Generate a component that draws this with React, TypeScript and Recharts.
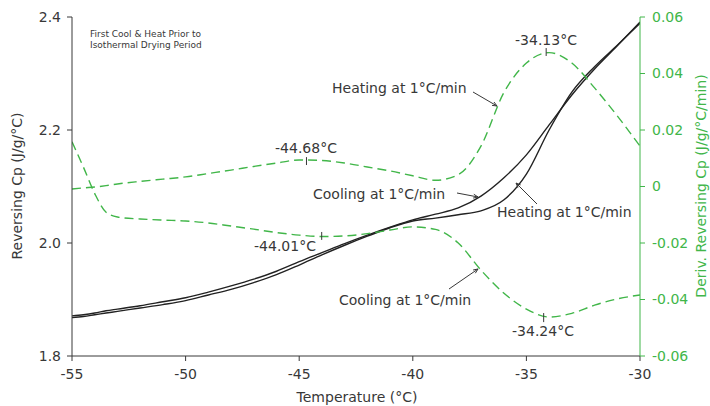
import {
  ComposedChart,
  Line,
  ReferenceLine,
  XAxis,
  YAxis,
} from "recharts";

const temps = [
  -55, -54.5, -54, -53.5, -53, -52, -51, -50, -49, -48, -47, -46, -45, -44, -43,
  -42, -41, -40, -39, -38, -37, -36, -35, -34, -33, -32, -31, -30,
];

const cpCooling = [
  1.871, 1.873, 1.876, 1.88, 1.883, 1.889, 1.896, 1.903, 1.913, 1.924, 1.936,
  1.95, 1.967, 1.983, 1.999, 2.014, 2.028, 2.041, 2.051, 2.062, 2.083, 2.115,
  2.156, 2.209, 2.262, 2.308, 2.349, 2.391,
];

const cpHeating = [
  1.868, 1.87, 1.873, 1.876, 1.879, 1.885, 1.891, 1.898, 1.908, 1.918, 1.93,
  1.944, 1.961, 1.979, 1.996, 2.012, 2.027, 2.039, 2.044, 2.05, 2.057, 2.076,
  2.122, 2.2, 2.267, 2.312, 2.35, 2.389,
];

const derivHeating = [
  -0.0009, -0.0005, -0.0002, 0.0003, 0.0009, 0.0018, 0.0026, 0.0034, 0.0046,
  0.0058, 0.0071, 0.0083, 0.0094, 0.0092, 0.0083, 0.0069, 0.0055, 0.0038,
  0.0022, 0.0042, 0.0143, 0.0331, 0.0437, 0.0474, 0.0437, 0.0349, 0.025,
  0.0143,
];

const derivCooling = [
  0.0158, 0.0069, -0.0025, -0.0091, -0.0108, -0.0115, -0.0119, -0.0122, -0.0129,
  -0.014, -0.0151, -0.0163, -0.0172, -0.0177, -0.0175, -0.0167, -0.0154,
  -0.0143, -0.0152, -0.02, -0.0296, -0.0377, -0.0434, -0.0462, -0.0449, -0.042,
  -0.0398, -0.0384,
];

const xTicks = [-55, -50, -45, -40, -35, -30];
const cpTicks = [1.8, 2.0, 2.2, 2.4];
const derivTicks = [-0.06, -0.04, -0.02, 0, 0.02, 0.04, 0.06];

// peak / trough markers: [temperature, low, high] on the derivative axis
const markers = [
  [-34.13, 0.0462, 0.049],
  [-44.68, 0.0076, 0.0104],
  [-44.01, -0.0189, -0.0161],
  [-34.24, -0.048, -0.0448],
];

const data = temps.map((t, i) => ({
  t,
  cpCooling: cpCooling[i],
  cpHeating: cpHeating[i],
  derivHeating: derivHeating[i],
  derivCooling: derivCooling[i],
}));

const INK = "#383838";
const GREEN = "#41b649";
const FONT = "'DejaVu Sans', sans-serif";

const arrows = [
  [473, 92, 497, 106],
  [457, 193, 478, 197],
  [537, 204, 516, 183],
  [449, 289, 478, 269],
];

function Arrow({ x1, y1, x2, y2 }: { x1: number; y1: number; x2: number; y2: number }) {
  const a = Math.atan2(y2 - y1, x2 - x1);
  const h = 5;
  const p1 = [x2 - h * Math.cos(a - 0.4), y2 - h * Math.sin(a - 0.4)];
  const p2 = [x2 - h * Math.cos(a + 0.4), y2 - h * Math.sin(a + 0.4)];
  return (
    <g stroke={INK} strokeWidth={1} fill="none">
      <line x1={x1} y1={y1} x2={x2} y2={y2} />
      <polyline points={`${p1[0]},${p1[1]} ${x2},${y2} ${p2[0]},${p2[1]}`} />
    </g>
  );
}

export default function App() {
  return (
    <div style={{ position: "absolute", left: 0, top: 0, width: 710, height: 406, background: "#fff" }}>
      <ComposedChart
        width={710}
        height={406}
        data={data}
        margin={{ top: 17, right: 0, bottom: 0, left: 0 }}
      >
        <XAxis
          dataKey="t"
          type="number"
          domain={[-55, -30]}
          ticks={xTicks}
          allowDataOverflow
          height={50}
          stroke={INK}
          tickSize={5}
          tickMargin={8}
          tick={{ fill: INK, fontSize: 14, fontFamily: FONT }}
        />
        <YAxis
          yAxisId="cp"
          domain={[1.8, 2.4]}
          ticks={cpTicks}
          allowDataOverflow
          width={72}
          stroke={INK}
          tickSize={5}
          tickMargin={6}
          tickFormatter={(v: number) => v.toFixed(1)}
          tick={{ fill: INK, fontSize: 14, fontFamily: FONT }}
        />
        <YAxis
          yAxisId="d"
          orientation="right"
          domain={[-0.06, 0.06]}
          ticks={derivTicks}
          allowDataOverflow
          width={70}
          stroke={GREEN}
          tickSize={5}
          tickMargin={7}
          tickFormatter={(v: number) => (v === 0 ? "0" : v.toFixed(2))}
          tick={{ fill: GREEN, fontSize: 14, fontFamily: FONT }}
        />
        <Line yAxisId="cp" dataKey="cpCooling" type="monotone" stroke="#222" strokeWidth={1.4} dot={false} isAnimationActive={false} />
        <Line yAxisId="cp" dataKey="cpHeating" type="monotone" stroke="#222" strokeWidth={1.4} dot={false} isAnimationActive={false} />
        <Line yAxisId="d" dataKey="derivHeating" type="monotone" stroke={GREEN} strokeWidth={1.4} strokeDasharray="9 5" dot={false} isAnimationActive={false} />
        <Line yAxisId="d" dataKey="derivCooling" type="monotone" stroke={GREEN} strokeWidth={1.4} strokeDasharray="9 5" dot={false} isAnimationActive={false} />
        {markers.map(([t, lo, hi]) => (
          <ReferenceLine
            key={t}
            yAxisId="d"
            segment={[{ x: t, y: lo }, { x: t, y: hi }]}
            stroke={INK}
            strokeWidth={1}
          />
        ))}
      </ComposedChart>
      <svg
        width={710}
        height={406}
        style={{ position: "absolute", left: 0, top: 0, pointerEvents: "none" }}
        fontFamily={FONT}
      >
        <text x={90} y={37} fontSize={9} fill={INK}>First Cool &amp; Heat Prior to</text>
        <text x={90} y={48} fontSize={9} fill={INK}>Isothermal Drying Period</text>
        <g fontSize={14} fill={INK}>
          <text x={332} y={93}>Heating at 1°C/min</text>
          <text x={546} y={45} textAnchor="middle">-34.13°C</text>
          <text x={306} y={153} textAnchor="middle">-44.68°C</text>
          <text x={313} y={199}>Cooling at 1°C/min</text>
          <text x={285} y={251} textAnchor="middle">-44.01°C</text>
          <text x={497} y={217}>Heating at 1°C/min</text>
          <text x={339} y={305}>Cooling at 1°C/min</text>
          <text x={543} y={336} textAnchor="middle">-34.24°C</text>
          <text x={357} y={402} textAnchor="middle">Temperature (°C)</text>
          <text x={22} y={186} textAnchor="middle" transform="rotate(-90 22 186)">Reversing Cp (J/g/°C)</text>
        </g>
        <text x={706} y={186} fontSize={14} fill={GREEN} textAnchor="middle" transform="rotate(-90 706 186)">
          Deriv. Reversing Cp (J/g/°C/min)
        </text>
        {arrows.map(([x1, y1, x2, y2], i) => (
          <Arrow key={i} x1={x1} y1={y1} x2={x2} y2={y2} />
        ))}
      </svg>
    </div>
  );
}
